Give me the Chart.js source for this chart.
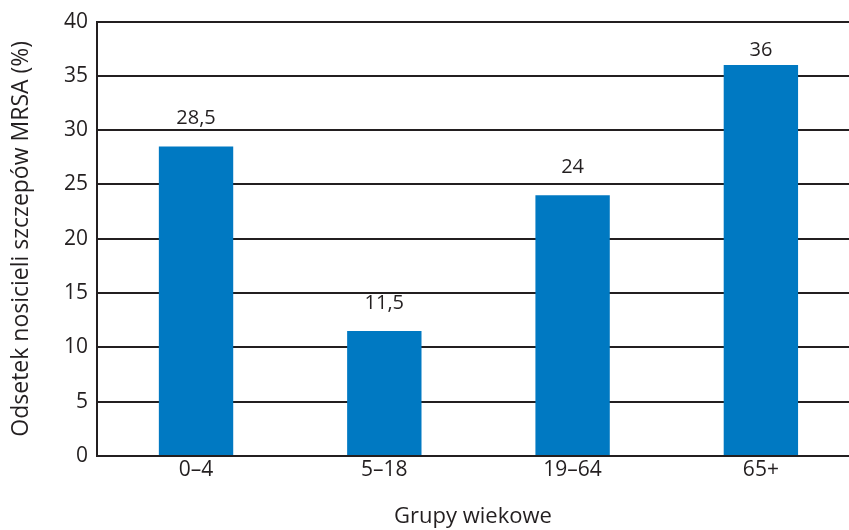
<!DOCTYPE html>
<html>
<head>
<meta charset="utf-8">
<script src="https://cdn.jsdelivr.net/npm/chart.js@4/dist/chart.umd.min.js"></script>
<style>
  html, body { margin: 0; padding: 0; background: #fff; }
  #wrap { width: 849px; height: 530px; }
</style>
</head>
<body>
<div id="wrap"><canvas id="c" width="849" height="530"></canvas></div>
<script>
// Age groups and share of MRSA carriers (%)
const categories = ['0–4', '5–18', '19–64', '65+'];
const values = [28.5, 11.5, 24, 36];
const valueLabels = ['28,5', '11,5', '24', '36'];
const yTicks = [0, 5, 10, 15, 20, 25, 30, 35, 40];

const FONT = '"Open Sans", "Noto Sans", sans-serif';
const TEXT = '#231f20';

// Writes each value above its bar, kept clear of the top gridline
const barLabels = {
  id: 'barLabels',
  afterDatasetsDraw(chart) {
    const ctx = chart.ctx;
    const meta = chart.getDatasetMeta(0);
    const minY = chart.chartArea.top + 34;
    ctx.save();
    ctx.font = '20px ' + FONT;
    ctx.fillStyle = TEXT;
    ctx.textAlign = 'center';
    ctx.textBaseline = 'alphabetic';
    meta.data.forEach((bar, i) => {
      ctx.fillText(valueLabels[i], bar.x, Math.max(bar.y - 22, minY));
    });
    ctx.restore();
  }
};

new Chart(document.getElementById('c'), {
  type: 'bar',
  data: {
    datasets: [{
      data: values.map((v, i) => ({ x: i, y: v })),
      backgroundColor: '#0079c2',
      borderWidth: 0,
      barPercentage: 0.395,
      categoryPercentage: 1
    }]
  },
  options: {
    responsive: false,
    animation: false,
    layout: { padding: { top: 20, right: 0, left: 0, bottom: 0 } },
    plugins: { legend: { display: false }, tooltip: { enabled: false } },
    scales: {
      x: {
        type: 'linear',
        offset: false,
        min: -0.526,
        max: 3.468,
        afterBuildTicks(scale) { scale.ticks = categories.map((c, i) => ({ value: i })); },
        grid: { display: false, drawTicks: false, offset: false },
        border: { display: false },
        ticks: {
          color: TEXT,
          font: { family: FONT, size: 21 },
          padding: 1,
          callback: (v) => categories[v]
        },
        title: {
          display: true,
          text: 'Grupy wiekowe',
          color: TEXT,
          font: { family: FONT, size: 22 },
          padding: { top: 0, bottom: 0 }
        },
        afterFit(scale) { scale.height = 74; }
      },
      y: {
        min: 0,
        max: 40,
        afterBuildTicks(scale) { scale.ticks = yTicks.map(v => ({ value: v })); },
        grid: { color: '#231f20', lineWidth: 2, drawTicks: false },
        border: { display: true, color: '#231f20', width: 2 },
        ticks: { color: TEXT, font: { family: FONT, size: 21 }, padding: 9 },
        title: {
          display: true,
          text: 'Odsetek nosicieli szczepów MRSA (%)',
          color: TEXT,
          font: { family: FONT, size: 23 },
          padding: { top: 8, bottom: 0 }
        },
        afterFit(scale) { scale.width = 97; }
      }
    }
  },
  plugins: [barLabels]
});
</script>
</body>
</html>
